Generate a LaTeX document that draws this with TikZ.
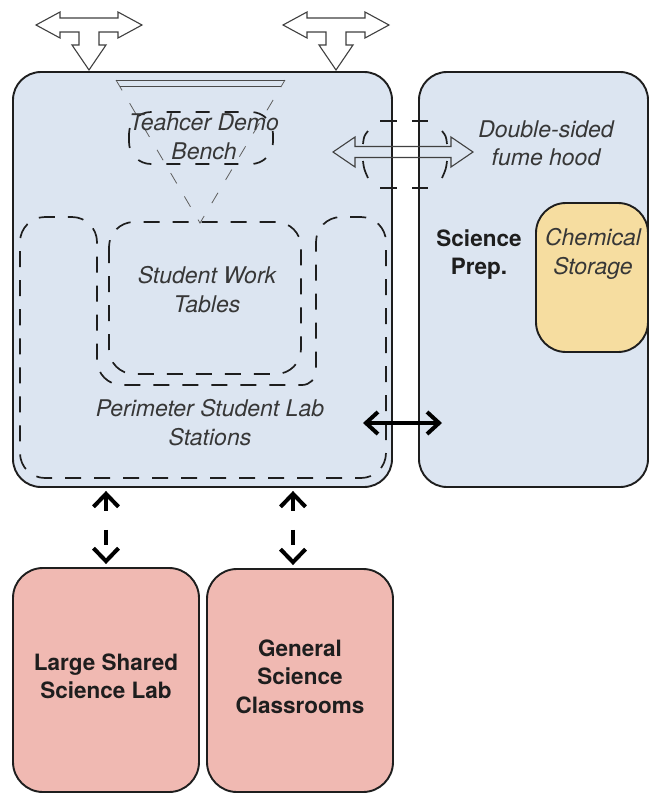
\documentclass[tikz,border=0pt]{standalone}
\usepackage{fontspec}
\setmainfont{TeX Gyre Heros}
\usetikzlibrary{arrows.meta}
\definecolor{labblue}{RGB}{220,229,241}
\definecolor{storeyel}{RGB}{246,221,160}
\definecolor{roompink}{RGB}{240,185,178}
\definecolor{ink}{RGB}{30,30,30}
\definecolor{softink}{RGB}{55,55,55}
\definecolor{conegray}{RGB}{95,95,95}

\tikzset{
  room/.style={draw=ink, line width=1.9pt, inner sep=0pt, rounded corners=28pt},
  zone/.style={draw=ink, line width=1.7pt, dash pattern=on 16pt off 13pt},
  benchzone/.style={draw=ink, line width=1.7pt, dash pattern=on 14pt off 15pt},
  cone/.style={draw=conegray, line width=0.8pt, dash pattern=on 12pt off 15pt},
  benchline/.style={draw=ink!80, line width=1pt},
  outline/.style={draw=ink!85, line width=1.1pt, line join=miter},
  hoodmark/.style={draw=ink, line width=1.7pt},
  vlink/.style={draw=black, line width=4pt, dash pattern=on 15pt off 19pt,
    arrows={Straight Barb[length=13pt,width=25pt]-Straight Barb[length=13pt,width=25pt]}},
  hlink/.style={draw=black, line width=4pt,
    arrows={Straight Barb[length=12pt,width=22pt]-Straight Barb[length=12pt,width=22pt]}},
  italbl/.style={font=\fontsize{23}{28.5}\selectfont\itshape, text=softink, align=center, inner sep=0pt},
  boldlbl/.style={font=\fontsize{22.5}{28.5}\selectfont\bfseries, text=ink, align=center},
  tee/.pic={
    \draw[outline] (-53,25) -- (-29,12) -- (-29,18) -- (29,18) -- (29,12) -- (53,25)
      -- (29,38) -- (29,32) -- (10,32) -- (10,45) -- (17,45) -- (0,70) -- (-17,45)
      -- (-10,45) -- (-10,32) -- (-29,32) -- (-29,38) -- cycle;
  }
}

\begin{document}
\begin{tikzpicture}[x=1pt,y=-1pt]
\useasboundingbox (0,0) rectangle (650,793);
\fill[white] (0,0) rectangle (650,793);

% rooms
\node[room, fill=labblue, minimum width=379pt, minimum height=415pt] (lab) at (202.5,279.5) {};
\node[room, fill=labblue, minimum width=229pt, minimum height=415pt] (prep) at (533.5,279.5) {};
\node[room, fill=storeyel, rounded corners=30pt, minimum width=112pt, minimum height=149pt] (chem) at (592,277.5) {};
\node[room, fill=roompink, rounded corners=30pt, minimum width=186pt, minimum height=224pt] (lsl) at (106,680) {};
\node[room, fill=roompink, rounded corners=30pt, minimum width=186pt, minimum height=223pt] (gsc) at (300,680.5) {};

% perimeter lab stations (U-shaped zone)
\draw[zone] (20,350) [rounded corners=25pt] -- (20,217) -- (97,217) -- (97,385)
  [rounded corners=14pt] -- (316,385) [rounded corners=25pt] -- (316,217) -- (386,217) -- (386,478) -- (20,478) -- cycle;

% student work tables
\draw[zone, rounded corners=25pt] (109,222) rectangle (301,374);

% teacher demo bench and its sight lines
\draw[cone] (116,80) -- (200,223) -- (285,80);
\draw[benchline] (116,80) -- (285,80);
\draw[benchline] (120,86) -- (281,86);
\draw[benchzone, rounded corners=22pt] (129,112) rectangle (273,164);

% double-sided fume hood
\draw[hoodmark] (380,121) -- (397,121) (412,121) -- (428,121)
  (380,188) -- (397,188) (412,188) -- (428,188);
\draw[hoodmark] (368,131) .. controls (364,136) .. (363,144)
  (363,161) .. controls (364,169) .. (368,178)
  (442,131) .. controls (446,136) .. (447,144)
  (447,161) .. controls (446,169) .. (442,178);
\draw[outline] (333,152) -- (355,137) -- (355,146.5) -- (451,146.5) -- (451,137) -- (473,152)
  -- (451,167) -- (451,157.5) -- (355,157.5) -- (355,167) -- cycle;

% labels
\node[italbl] (benchlbl) at (204,137) {Teahcer Demo\\Bench};
\node[italbl] (hoodlbl) at (546,143.5) {Double-sided\\fume hood};
\node[boldlbl, inner sep=0pt] (preplbl) at (479,254.5) {Science\\Prep.};
\node[italbl] (chemlbl) at (593,254) {Chemical\\Storage};
\node[italbl] (tablelbl) at (207,289.5) {Student Work\\Tables};
\node[italbl] (perimlbl) at (210,422.5) {Perimeter Student Lab\\Stations};
\node[boldlbl, inner sep=0pt] (lsllbl) at (106,676.5) {Large Shared\\Science Lab};
\node[boldlbl, inner sep=0pt] (gsclbl) at (300,676.5) {General\\Science\\Classrooms};

% entrances from the corridor
\pic at (89,0) {tee};
\pic at (336,0) {tee};

% connections between rooms
\coordinate (pass1) at (363,423);
\coordinate (pass2) at (442,423);
\draw[hlink] (pass1) -- (pass2);
\draw[vlink, shorten <=3pt, shorten >=3pt] (lsl.north |- lab.south) -- (lsl.north);
\draw[vlink, shorten <=3pt, shorten >=3pt] ([xshift=-7pt]gsc.north |- lab.south) -- ([xshift=-7pt]gsc.north);
\end{tikzpicture}
\end{document}
